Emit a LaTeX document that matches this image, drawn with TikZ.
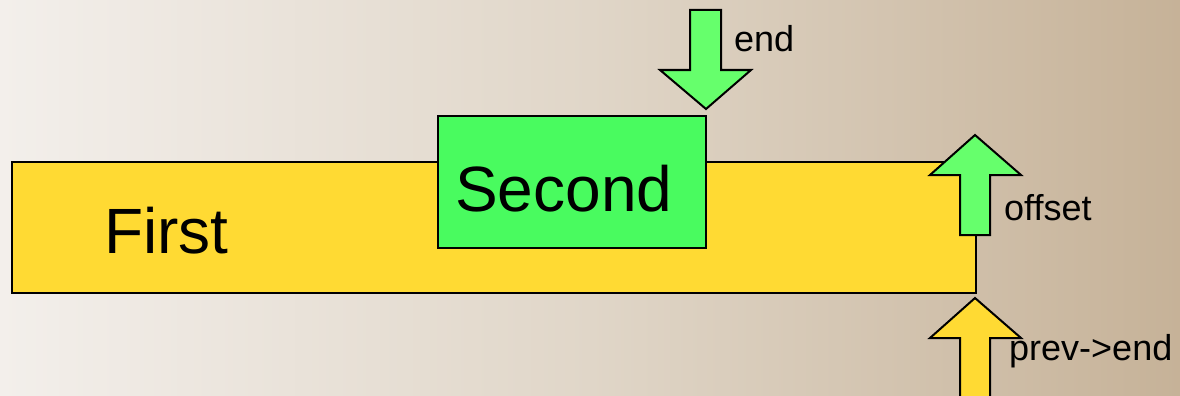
\documentclass[tikz,border=0pt]{standalone}
\usepackage{fontspec}
\setmainfont{Liberation Sans}
\definecolor{boxyellow}{RGB}{255,218,51}
\definecolor{boxgreen}{RGB}{73,251,95}
\definecolor{arrowgreen}{RGB}{102,255,108}
\definecolor{bgleft}{RGB}{243,239,235}
\definecolor{bgmid}{RGB}{224,214,200}
\definecolor{bgright}{RGB}{198,178,152}
\tikzset{
  block/.style={draw=black, line width=1.5pt, inner sep=0pt, outer sep=0pt},
  bigtext/.style={font=\fontsize{64}{70}\selectfont, inner sep=0pt, anchor=base west},
  tag/.style={font=\fontsize{36}{40}\selectfont, inner sep=0pt, anchor=base west},
  blockarrow/.style={draw=black, line width=2pt, line join=miter},
}
\begin{document}
\begin{tikzpicture}[x=1pt, y=-1pt]
  % page and background
  \useasboundingbox (0,0) rectangle (1180,396);
  \shade[left color=bgleft, right color=bgright, middle color=bgmid] (0,0) rectangle (1180,396);

  % the two blocks
  \node[block, fill=boxyellow, minimum width=964pt, minimum height=131pt] (first) at (494,227.5) {};
  \node[block, fill=boxgreen, minimum width=268pt, minimum height=132pt] (second) at (572,182) {};
  \node[bigtext] (firstlbl) at (104,253) {First};
  \node[bigtext] (secondlbl) at (455,211) {Second};

  % "end" arrow pointing down onto the right edge of Second
  \draw[blockarrow, fill=arrowgreen]
    (690,10) -- (721,10) -- (721,70) -- (751,70) -- (706,109) -- (660,70) -- (690,70) -- cycle;
  \node[tag] (endlbl) at (734,52) {end};

  % "offset" arrow pointing up at the end of First
  \draw[blockarrow, fill=arrowgreen]
    (960,235) -- (990,235) -- (990,175) -- (1021,175) -- (975,135) -- (930,175) -- (960,175) -- cycle;
  \node[tag] (offsetlbl) at (1004,220) {offset};

  % "prev->end" arrow pointing up from below
  \draw[blockarrow, fill=boxyellow]
    (960,400) -- (960,338) -- (930,338) -- (975,298) -- (1021,338) -- (990,338) -- (990,400);
  \node[tag] (prevlbl) at (1009,360) {prev->end};
\end{tikzpicture}
\end{document}
